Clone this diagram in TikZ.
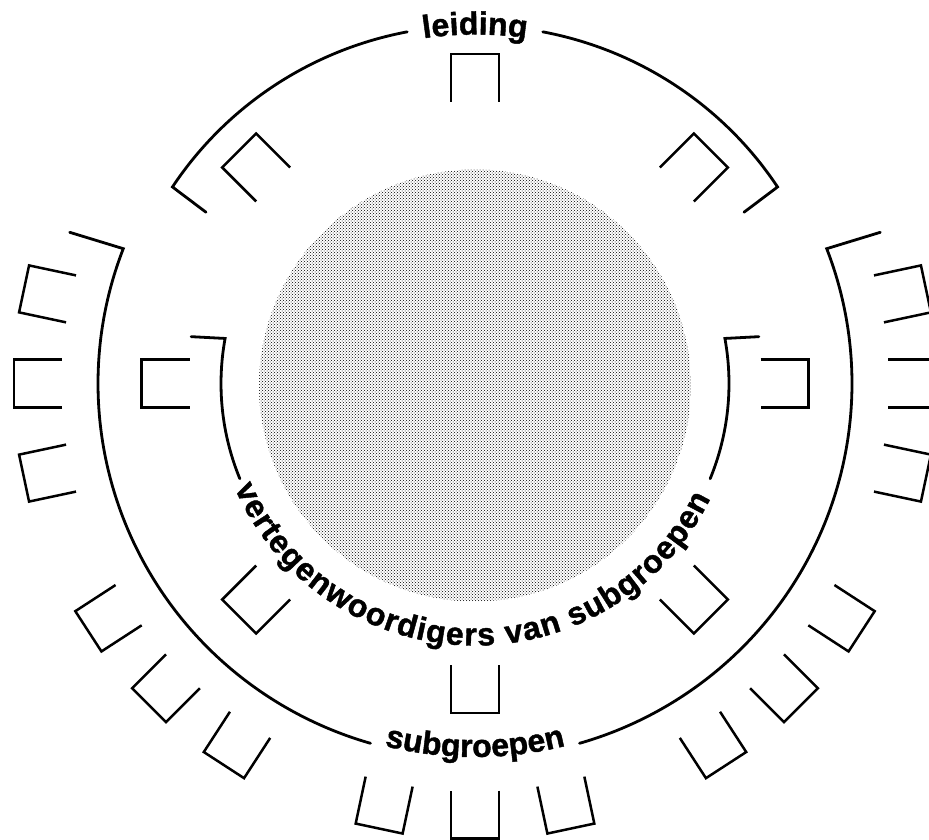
\documentclass[tikz,border=0pt]{standalone}
\usepackage{fontspec}
\setmainfont{Liberation Sans}
\newfontfamily\lblfont[BoldFeatures={FakeBold=1.3}]{Liberation Sans}
\usetikzlibrary{decorations.text,patterns,calc}
\newcommand\lblfmt{\lblfont\bfseries\fontsize{32}{32}\selectfont}
\newcommand\seat[3]{%
  \draw[chairline, shift={({#2*cos(#1)},{#3*sin(#1)})}, rotate=#1]
    (-24,24) -- (24,24) -- (24,-24) -- (-24,-24);}
\begin{document}
\begin{tikzpicture}[x=1pt,y=1pt,
  arcline/.style={line width=2.8pt, line cap=round, line join=miter},
  chairline/.style={line width=2.5pt, line cap=butt, line join=miter}]
\useasboundingbox (0,0) rectangle (929,839);
\clip (0,0) rectangle (929,839);
\begin{scope}[shift={(475,455.5)}]
  % central dotted disc
  \fill[pattern=crosshatch dots, pattern color=black] (0,-2) circle (216);
  % leiding arc with hooks
  \draw[arcline] ($(146.7:362 and 358)+(-37:42)$) -- (146.7:362 and 358)
    arc[start angle=146.7, end angle=100.8, x radius=362, y radius=358];
  \draw[arcline] (79.2:362 and 358)
    arc[start angle=79.2, end angle=33.3, x radius=362, y radius=358] -- ++(217:42);
  % outer subgroepen arc
  \draw[arcline] ($(158.9:377 and 374.5)+(163:56)$) -- (158.9:377 and 374.5)
    arc[start angle=158.9, end angle=253.9, x radius=377, y radius=374.5];
  \draw[arcline] (286.1:377 and 374.5)
    arc[start angle=286.1, end angle=381.1, x radius=377, y radius=374.5] -- ++(17:56);
  % inner arc (vertegenwoordigers)
  \draw[arcline] ($(169.7:254 and 252)+(177:34)$) -- (169.7:254 and 252)
    arc[start angle=169.7, end angle=202.2, x radius=254, y radius=252];
  \draw[arcline] (337.8:254 and 252)
    arc[start angle=337.8, end angle=370.3, x radius=254, y radius=252] -- ++(3:34);
  % labels
  \path[decorate, decoration={text along path, text={|\lblfmt|leiding}, text align=center}]
    (120:349) arc[start angle=120, end angle=60, radius=349];
  \path[decorate, decoration={text along path, text={|\lblfmt|subgroepen}, text align=center}]
    (240:373.5) arc[start angle=240, end angle=300, radius=373.5];
  \path[decorate, decoration={text along path, text={|\lblfmt|vertegenwoordigers van subgroepen}, text align={fit to path}}]
    (203.5:262) arc[start angle=203.5, end angle=334, radius=262];
  % leiding and representative chairs (inner ring)
  \foreach \a in {0,45,90,135,180,225,270,315} { \seat{\a}{309.5}{305.5} }
  % subgroup chairs (outer ring)
  \foreach \a in {168,180,192,213,225,237,258,270,282,303,315,327,348,0,12} { \seat{\a}{437}{431} }
\end{scope}
\end{tikzpicture}
\end{document}
